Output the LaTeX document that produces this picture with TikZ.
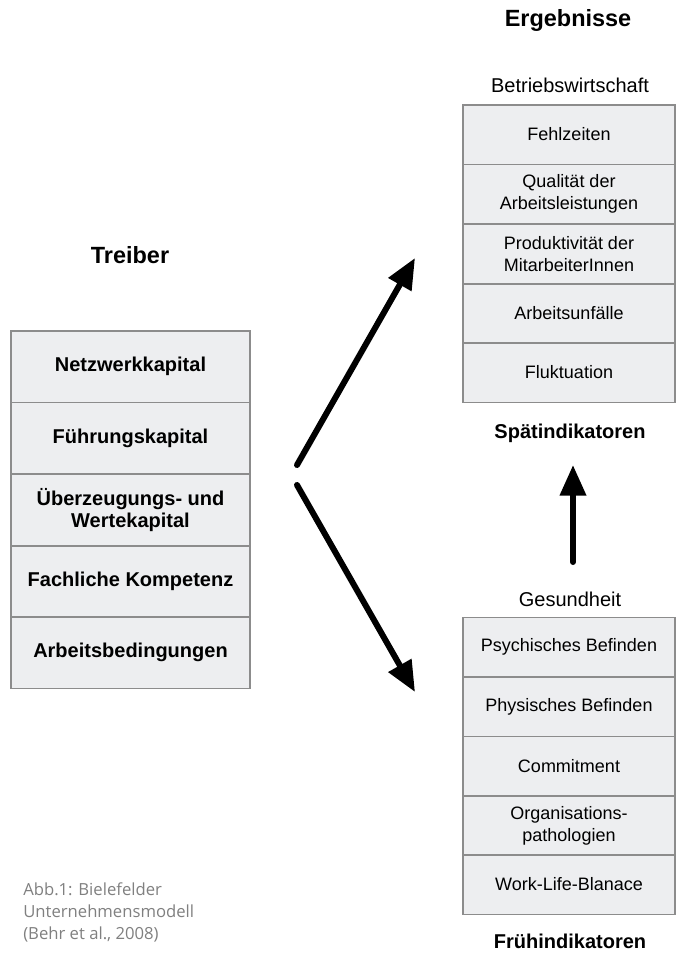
\documentclass[tikz,border=0pt]{standalone}
\usepackage{fontspec}
\setmainfont{Liberation Sans}
\newfontfamily\capfont{Open Sans}
\usetikzlibrary{arrows.meta}
\definecolor{cellfill}{RGB}{237,238,240}
\definecolor{cellline}{RGB}{140,140,140}
\definecolor{captiongray}{RGB}{128,128,128}
\begin{document}
\begin{tikzpicture}[x=0.75pt,y=-0.75pt,
  cell/.style={draw=cellline, line width=1.1pt, fill=cellfill, inner sep=0pt, outer sep=0pt, align=center},
  lcell/.style={cell, minimum width=179.25pt, minimum height=53.6pt, font=\fontsize{15}{16.5}\selectfont\bfseries},
  rcell/.style={cell, minimum width=159pt, minimum height=44.6pt, font=\fontsize{13.5}{16.5}\selectfont},
  title/.style={font=\fontsize{17.6}{20}\selectfont\bfseries, inner sep=0pt},
  btitle/.style={font=\fontsize{15}{18}\selectfont\bfseries, inner sep=0pt},
  subtitle/.style={font=\fontsize{15}{18}\selectfont, inner sep=0pt},
  bigarrow/.style={line width=4.5pt, line cap=round, -{Triangle[length=23pt,width=19pt]}},
]
\useasboundingbox[fill=white] (0,0) rectangle (676,953);

% titles
\node[title] (treiber) at (130,255) {Treiber};
\node[title] (ergebnisse) at (568,20) {Ergebnisse};
\node[subtitle] (bw) at (570,85) {Betriebswirtschaft};
\node[btitle] (spaet) at (570,433) {Spätindikatoren};
\node[subtitle] (ges) at (570,599) {Gesundheit};
\node[btitle] (frueh) at (570,941) {Frühindikatoren};

% left stack
\node[lcell] (l1) at (130.5,366.5) {Netzwerkkapital};
\node[lcell] (l2) at (130.5,438) {Führungskapital};
\node[lcell] (l3) at (130.5,510) {Überzeugungs- und\\Wertekapital};
\node[lcell] (l4) at (130.5,581.5) {Fachliche Kompetenz};
\node[lcell] (l5) at (130.5,652.5) {Arbeitsbedingungen};

% top right stack
\node[rcell] (t1) at (569,134.5) {Fehlzeiten};
\node[rcell] (t2) at (569,194) {Qualität der\\Arbeitsleistungen};
\node[rcell] (t3) at (569,254) {Produktivität der\\MitarbeiterInnen};
\node[rcell] (t4) at (569,313.5) {Arbeitsunfälle};
\node[rcell] (t5) at (569,372.5) {Fluktuation};

% bottom right stack
\node[rcell] (b1) at (569,647) {Psychisches Befinden};
\node[rcell] (b2) at (569,706.5) {Physisches Befinden};
\node[rcell] (b3) at (569,766) {Commitment};
\node[rcell] (b4) at (569,825.5) {Organisations-\\pathologien};
\node[rcell] (b5) at (569,884.5) {Work-Life-Blanace};

% arrows
\coordinate (upstart) at (297,465);
\coordinate (upend) at (415,258);
\coordinate (dnstart) at (297,485);
\coordinate (dnend) at (415,692);
\coordinate (vstart) at (573,562);
\coordinate (vend) at (573,465);
\draw[bigarrow] (upstart) -- (upend);
\draw[bigarrow] (dnstart) -- (dnend);
\draw[bigarrow] (vstart) -- (vend);

% caption
\node[anchor=north west, inner sep=0pt, align=left, text=captiongray,
      font=\capfont\fontsize{12.5}{16.5}\selectfont] (caption) at (23,882)
  {Abb.1: Bielefelder\\Unternehmensmodell\\(Behr et al., 2008)};
\end{tikzpicture}
\end{document}
